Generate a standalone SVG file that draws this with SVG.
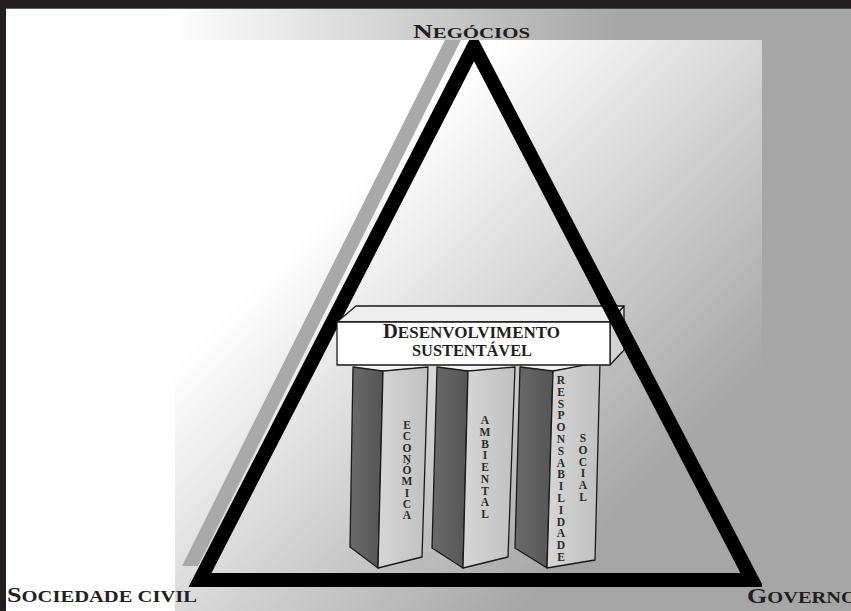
<svg xmlns="http://www.w3.org/2000/svg" width="851" height="611" viewBox="0 0 851 611">
<defs>
<linearGradient id="outerBg" gradientUnits="userSpaceOnUse" x1="170" y1="0" x2="620" y2="0">
<stop offset="0" stop-color="#ffffff"/>
<stop offset="1" stop-color="#a6a6a6"/>
</linearGradient>
<linearGradient id="innerBg" gradientUnits="userSpaceOnUse" x1="270" y1="270" x2="566" y2="566">
<stop offset="0" stop-color="#ffffff"/>
<stop offset="1" stop-color="#a6a6a6"/>
</linearGradient>
<linearGradient id="front" x1="0" y1="0" x2="1" y2="0">
<stop offset="0" stop-color="#d6d6d6"/>
<stop offset="1" stop-color="#c0c0c0"/>
</linearGradient>
<linearGradient id="dark" x1="0" y1="0" x2="1" y2="0">
<stop offset="0" stop-color="#6a6a6a"/>
<stop offset="1" stop-color="#555555"/>
</linearGradient>
<clipPath id="innerClip"><rect x="175" y="40" width="587" height="571"/></clipPath>
<clipPath id="overBox"><rect x="596" y="290" width="60" height="80"/></clipPath>
</defs>
<style>
.lbl{font-family:"Liberation Serif","DejaVu Serif",serif;font-weight:bold;fill:#231f20}
.vt{font-family:"Liberation Serif","DejaVu Serif",serif;font-weight:bold;font-size:11.5px;fill:#2b2b2b;text-anchor:middle}
.edge{stroke:#1a1a1a;stroke-width:1.3;stroke-linejoin:round}
.tri{fill:none;stroke:#000;stroke-width:14;stroke-linejoin:miter;stroke-miterlimit:4}
</style>
<!-- background -->
<rect x="0" y="0" width="851" height="611" fill="url(#outerBg)"/>
<rect x="175" y="40" width="587" height="571" fill="url(#innerBg)"/>
<rect x="0" y="0" width="851" height="8.7" fill="#231f20"/>
<rect x="0" y="0" width="6" height="611" fill="#231f20"/>

<g id="triangle" clip-path="url(#innerClip)">
<polygon points="445,40 461,40 198,566 182,566" fill="#a9a9a9"/>
<polygon class="tri" points="474,46 200,580 752,580"/>
</g>

<g id="pillar-economica">
<polygon class="edge" points="353,367 383,371 378,568 350,547" fill="url(#dark)"/>
<polygon class="edge" points="383,371 428,367 422,557 378,568" fill="url(#front)"/>
<polygon points="355,366 383,370 426,366" fill="#f4f4f4"/>
<text class="vt"><tspan x="407" y="429">E</tspan><tspan x="407" dy="11.25">C</tspan><tspan x="407" dy="11.25">O</tspan><tspan x="407" dy="11.25">N</tspan><tspan x="407" dy="11.25">Ó</tspan><tspan x="407" dy="11.25">M</tspan><tspan x="407" dy="11.25">I</tspan><tspan x="407" dy="11.25">C</tspan><tspan x="407" dy="11.25">A</tspan></text>
</g>

<g id="pillar-ambiental">
<polygon class="edge" points="437,367 468,371 463,568 432,548" fill="url(#dark)"/>
<polygon class="edge" points="468,371 515,367 508,557 463,568" fill="url(#front)"/>
<polygon points="439,366 468,370 513,366" fill="#f4f4f4"/>
<text class="vt"><tspan x="485" y="424">A</tspan><tspan x="485" dy="11.75">M</tspan><tspan x="485" dy="11.75">B</tspan><tspan x="485" dy="11.75">I</tspan><tspan x="485" dy="11.75">E</tspan><tspan x="485" dy="11.75">N</tspan><tspan x="485" dy="11.75">T</tspan><tspan x="485" dy="11.75">A</tspan><tspan x="485" dy="11.75">L</tspan></text>
</g>

<g id="pillar-social">
<polygon class="edge" points="520,367 553,371 547,568 515,548" fill="url(#dark)"/>
<polygon class="edge" points="553,371 600,362 595,560 547,568" fill="url(#front)"/>
<polygon points="522,366 553,370 598,362" fill="#f4f4f4"/>
<text class="vt"><tspan x="561" y="384">R</tspan><tspan x="561" dy="11.8">E</tspan><tspan x="561" dy="11.8">S</tspan><tspan x="561" dy="11.8">P</tspan><tspan x="561" dy="11.8">O</tspan><tspan x="561" dy="11.8">N</tspan><tspan x="561" dy="11.8">S</tspan><tspan x="561" dy="11.8">A</tspan><tspan x="561" dy="11.8">B</tspan><tspan x="561" dy="11.8">I</tspan><tspan x="561" dy="11.8">L</tspan><tspan x="561" dy="11.8">I</tspan><tspan x="561" dy="11.8">D</tspan><tspan x="561" dy="11.8">A</tspan><tspan x="561" dy="11.8">D</tspan><tspan x="561" dy="11.8">E</tspan></text>
<text class="vt"><tspan x="583" y="442">S</tspan><tspan x="583" dy="11.8">O</tspan><tspan x="583" dy="11.8">C</tspan><tspan x="583" dy="11.8">I</tspan><tspan x="583" dy="11.8">A</tspan><tspan x="583" dy="11.8">L</tspan></text>
</g>

<g id="box-desenvolvimento">
<polygon class="edge" points="337,322 356,306 624,306 610,322" fill="#eeeeee"/>
<polygon class="edge" points="610,322 624,306 624,350 610,365" fill="#d2d2d2"/>
<rect class="edge" x="337" y="322" width="273" height="43" fill="#ffffff"/>
<text class="lbl" x="383" y="337.5" textLength="177" lengthAdjust="spacingAndGlyphs"><tspan font-size="20">D</tspan><tspan font-size="16.5">ESENVOLVIMENTO</tspan></text>
<text class="lbl" x="412" y="355.5" font-size="16.5" textLength="120" lengthAdjust="spacingAndGlyphs">SUSTENTÁVEL</text>
</g>

<g id="triangle-front" clip-path="url(#overBox)">
<polygon class="tri" points="474,46 200,580 752,580"/>
</g>

<g id="label-negocios">
<text class="lbl" x="413" y="37.5" textLength="117" lengthAdjust="spacingAndGlyphs"><tspan font-size="19">N</tspan><tspan font-size="14.5">EGÓCIOS</tspan></text>
</g>
<g id="label-sociedade">
<text class="lbl" x="7" y="602" textLength="190" lengthAdjust="spacingAndGlyphs"><tspan font-size="21">S</tspan><tspan font-size="16.5">OCIEDADE CIVIL</tspan></text>
</g>
<g id="label-governo">
<text class="lbl" x="747" y="603" textLength="110" lengthAdjust="spacingAndGlyphs"><tspan font-size="21">G</tspan><tspan font-size="16.5">OVERNO</tspan></text>
</g>
<g id="connectors"/>
</svg>
